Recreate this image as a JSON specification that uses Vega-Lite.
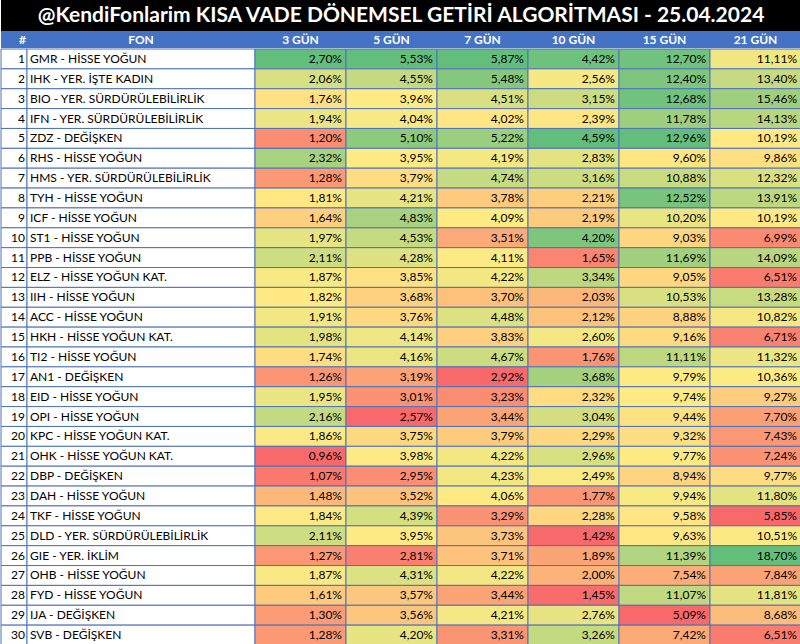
{
  "$schema": "https://vega.github.io/schema/vega-lite/v6.json",
  "padding": 0,
  "background": "white",
  "spacing": 0,
  "config": {
    "font": "Lato",
    "view": {"stroke": null},
    "locale": {"number": {"decimal": ",", "thousands": ".", "grouping": [3], "currency": ["", "%"]}}
  },
  "datasets": {
    "funds": [
      {"no": 1, "fon": "GMR - HİSSE YOĞUN", "3 GÜN": 2.70, "5 GÜN": 5.53, "7 GÜN": 5.87, "10 GÜN": 4.42, "15 GÜN": 12.70, "21 GÜN": 11.11},
      {"no": 2, "fon": "IHK - YER. İŞTE KADIN", "3 GÜN": 2.06, "5 GÜN": 4.55, "7 GÜN": 5.48, "10 GÜN": 2.56, "15 GÜN": 12.40, "21 GÜN": 13.40},
      {"no": 3, "fon": "BIO - YER. SÜRDÜRÜLEBİLİRLİK", "3 GÜN": 1.76, "5 GÜN": 3.96, "7 GÜN": 4.51, "10 GÜN": 3.15, "15 GÜN": 12.68, "21 GÜN": 15.46},
      {"no": 4, "fon": "IFN - YER. SÜRDÜRÜLEBİLİRLİK", "3 GÜN": 1.94, "5 GÜN": 4.04, "7 GÜN": 4.02, "10 GÜN": 2.39, "15 GÜN": 11.78, "21 GÜN": 14.13},
      {"no": 5, "fon": "ZDZ - DEĞİŞKEN", "3 GÜN": 1.20, "5 GÜN": 5.10, "7 GÜN": 5.22, "10 GÜN": 4.59, "15 GÜN": 12.96, "21 GÜN": 10.19},
      {"no": 6, "fon": "RHS - HİSSE YOĞUN", "3 GÜN": 2.32, "5 GÜN": 3.95, "7 GÜN": 4.19, "10 GÜN": 2.83, "15 GÜN": 9.60, "21 GÜN": 9.86},
      {"no": 7, "fon": "HMS - YER. SÜRDÜRÜLEBİLİRLİK", "3 GÜN": 1.28, "5 GÜN": 3.79, "7 GÜN": 4.74, "10 GÜN": 3.16, "15 GÜN": 10.88, "21 GÜN": 12.32},
      {"no": 8, "fon": "TYH - HİSSE YOĞUN", "3 GÜN": 1.81, "5 GÜN": 4.21, "7 GÜN": 3.78, "10 GÜN": 2.21, "15 GÜN": 12.52, "21 GÜN": 13.91},
      {"no": 9, "fon": "ICF - HİSSE YOĞUN", "3 GÜN": 1.64, "5 GÜN": 4.83, "7 GÜN": 4.09, "10 GÜN": 2.19, "15 GÜN": 10.20, "21 GÜN": 10.19},
      {"no": 10, "fon": "ST1 - HİSSE YOĞUN", "3 GÜN": 1.97, "5 GÜN": 4.53, "7 GÜN": 3.51, "10 GÜN": 4.20, "15 GÜN": 9.03, "21 GÜN": 6.99},
      {"no": 11, "fon": "PPB - HİSSE YOĞUN", "3 GÜN": 2.11, "5 GÜN": 4.28, "7 GÜN": 4.11, "10 GÜN": 1.65, "15 GÜN": 11.69, "21 GÜN": 14.09},
      {"no": 12, "fon": "ELZ - HİSSE YOĞUN KAT.", "3 GÜN": 1.87, "5 GÜN": 3.85, "7 GÜN": 4.22, "10 GÜN": 3.34, "15 GÜN": 9.05, "21 GÜN": 6.51},
      {"no": 13, "fon": "IIH - HİSSE YOĞUN", "3 GÜN": 1.82, "5 GÜN": 3.68, "7 GÜN": 3.70, "10 GÜN": 2.03, "15 GÜN": 10.53, "21 GÜN": 13.28},
      {"no": 14, "fon": "ACC - HİSSE YOĞUN", "3 GÜN": 1.91, "5 GÜN": 3.76, "7 GÜN": 4.48, "10 GÜN": 2.12, "15 GÜN": 8.88, "21 GÜN": 10.82},
      {"no": 15, "fon": "HKH - HİSSE YOĞUN KAT.", "3 GÜN": 1.98, "5 GÜN": 4.14, "7 GÜN": 3.83, "10 GÜN": 2.60, "15 GÜN": 9.16, "21 GÜN": 6.71},
      {"no": 16, "fon": "TI2 - HİSSE YOĞUN", "3 GÜN": 1.74, "5 GÜN": 4.16, "7 GÜN": 4.67, "10 GÜN": 1.76, "15 GÜN": 11.11, "21 GÜN": 11.32},
      {"no": 17, "fon": "AN1 - DEĞİŞKEN", "3 GÜN": 1.26, "5 GÜN": 3.19, "7 GÜN": 2.92, "10 GÜN": 3.68, "15 GÜN": 9.79, "21 GÜN": 10.36},
      {"no": 18, "fon": "EID - HİSSE YOĞUN", "3 GÜN": 1.95, "5 GÜN": 3.01, "7 GÜN": 3.23, "10 GÜN": 2.32, "15 GÜN": 9.74, "21 GÜN": 9.27},
      {"no": 19, "fon": "OPI - HİSSE YOĞUN", "3 GÜN": 2.16, "5 GÜN": 2.57, "7 GÜN": 3.44, "10 GÜN": 3.04, "15 GÜN": 9.44, "21 GÜN": 7.70},
      {"no": 20, "fon": "KPC - HİSSE YOĞUN KAT.", "3 GÜN": 1.86, "5 GÜN": 3.75, "7 GÜN": 3.79, "10 GÜN": 2.29, "15 GÜN": 9.32, "21 GÜN": 7.43},
      {"no": 21, "fon": "OHK - HİSSE YOĞUN KAT.", "3 GÜN": 0.96, "5 GÜN": 3.98, "7 GÜN": 4.22, "10 GÜN": 2.96, "15 GÜN": 9.77, "21 GÜN": 7.24},
      {"no": 22, "fon": "DBP - DEĞİŞKEN", "3 GÜN": 1.07, "5 GÜN": 2.95, "7 GÜN": 4.23, "10 GÜN": 2.49, "15 GÜN": 8.94, "21 GÜN": 9.77},
      {"no": 23, "fon": "DAH - HİSSE YOĞUN", "3 GÜN": 1.48, "5 GÜN": 3.52, "7 GÜN": 4.06, "10 GÜN": 1.77, "15 GÜN": 9.94, "21 GÜN": 11.80},
      {"no": 24, "fon": "TKF - HİSSE YOĞUN", "3 GÜN": 1.84, "5 GÜN": 4.39, "7 GÜN": 3.29, "10 GÜN": 2.28, "15 GÜN": 9.58, "21 GÜN": 5.85},
      {"no": 25, "fon": "DLD - YER. SÜRDÜRÜLEBİLİRLİK", "3 GÜN": 2.11, "5 GÜN": 3.95, "7 GÜN": 3.73, "10 GÜN": 1.42, "15 GÜN": 9.63, "21 GÜN": 10.51},
      {"no": 26, "fon": "GIE - YER. İKLİM", "3 GÜN": 1.27, "5 GÜN": 2.81, "7 GÜN": 3.71, "10 GÜN": 1.89, "15 GÜN": 11.39, "21 GÜN": 18.70},
      {"no": 27, "fon": "OHB - HİSSE YOĞUN", "3 GÜN": 1.87, "5 GÜN": 4.31, "7 GÜN": 4.22, "10 GÜN": 2.00, "15 GÜN": 7.54, "21 GÜN": 7.84},
      {"no": 28, "fon": "FYD - HİSSE YOĞUN", "3 GÜN": 1.61, "5 GÜN": 3.57, "7 GÜN": 3.44, "10 GÜN": 1.45, "15 GÜN": 11.07, "21 GÜN": 11.81},
      {"no": 29, "fon": "IJA - DEĞİŞKEN", "3 GÜN": 1.30, "5 GÜN": 3.56, "7 GÜN": 4.21, "10 GÜN": 2.76, "15 GÜN": 5.09, "21 GÜN": 8.68},
      {"no": 30, "fon": "SVB - DEĞİŞKEN", "3 GÜN": 1.28, "5 GÜN": 4.20, "7 GÜN": 3.31, "10 GÜN": 3.26, "15 GÜN": 7.42, "21 GÜN": 6.51}
    ],
    "periods": [
      {"period": "3 GÜN"}, {"period": "5 GÜN"}, {"period": "7 GÜN"},
      {"period": "10 GÜN"}, {"period": "15 GÜN"}, {"period": "21 GÜN"}
    ]
  },
  "vconcat": [
    {
      "width": 800,
      "height": 31,
      "view": {"fill": "#000000", "stroke": null},
      "data": {"values": [{"t": "@KendiFonlarim KISA VADE DÖNEMSEL GETİRİ ALGORİTMASI - 25.04.2024"}]},
      "mark": {"type": "text", "color": "white", "fontSize": 21, "fontWeight": "bold", "font": "Lato"},
      "encoding": {"text": {"field": "t"}}
    },
    {
      "hconcat": [
        {
          "width": 26,
          "height": 17,
          "view": {"fill": "#4472C4", "stroke": null},
          "data": {"values": [{"h": "#"}]},
          "mark": {"type": "text", "color": "white", "fontSize": 12, "fontWeight": "bold", "align": "left", "dx": 5},
          "encoding": {
            "x": {"datum": "#", "type": "nominal", "axis": null, "bandPosition": 0, "scale": {"paddingInner": 0, "paddingOuter": 0}},
            "text": {"field": "h"}
          }
        },
        {
          "width": 228,
          "height": 17,
          "view": {"fill": "#4472C4", "stroke": null},
          "data": {"values": [{"h": "FON"}]},
          "mark": {"type": "text", "color": "white", "fontSize": 12, "fontWeight": "bold"},
          "encoding": {"text": {"field": "h"}}
        },
        {
          "width": 546,
          "height": 17,
          "view": {"fill": "#4472C4", "stroke": null},
          "data": {"name": "periods"},
          "mark": {"type": "text", "color": "white", "fontSize": 12, "fontWeight": "bold"},
          "encoding": {
            "x": {"field": "period", "type": "nominal", "axis": null, "scale": {"domain": ["3 GÜN", "5 GÜN", "7 GÜN", "10 GÜN", "15 GÜN", "21 GÜN"], "paddingInner": 0, "paddingOuter": 0}},
            "text": {"field": "period"}
          }
        }
      ],
      "spacing": 0,
      "bounds": "flush"
    },
    {
      "hconcat": [
        {
          "width": 26,
          "height": 596,
          "data": {"name": "funds"},
          "encoding": {
            "y": {"field": "no", "type": "ordinal", "axis": null, "scale": {"paddingInner": 0, "paddingOuter": 0}},
            "x": {"datum": "#", "type": "nominal", "axis": null, "scale": {"paddingInner": 0, "paddingOuter": 0}}
          },
          "layer": [
            {"mark": {"type": "rect", "fill": "white", "stroke": "#4E72B8", "strokeWidth": 1}},
            {
              "mark": {"type": "text", "align": "right", "dx": -2, "fontSize": 12, "color": "black"},
              "encoding": {
                "x": {"datum": "#", "type": "nominal", "bandPosition": 1},
                "text": {"field": "no"}
              }
            }
          ]
        },
        {
          "width": 228,
          "height": 596,
          "data": {"name": "funds"},
          "encoding": {
            "y": {"field": "no", "type": "ordinal", "axis": null, "scale": {"paddingInner": 0, "paddingOuter": 0}},
            "x": {"datum": "FON", "type": "nominal", "axis": null, "scale": {"paddingInner": 0, "paddingOuter": 0}}
          },
          "layer": [
            {"mark": {"type": "rect", "fill": "white", "stroke": "#4E72B8", "strokeWidth": 1}},
            {
              "mark": {"type": "text", "align": "left", "dx": 3, "fontSize": 12, "color": "black"},
              "encoding": {
                "x": {"datum": "FON", "type": "nominal", "bandPosition": 0},
                "text": {"field": "fon"}
              }
            }
          ]
        },
        {
          "width": 546,
          "height": 596,
          "data": {"name": "funds"},
          "transform": [
            {"fold": ["3 GÜN", "5 GÜN", "7 GÜN", "10 GÜN", "15 GÜN", "21 GÜN"], "as": ["period", "ret"]}
          ],
          "encoding": {
            "y": {"field": "no", "type": "ordinal", "axis": null, "scale": {"paddingInner": 0, "paddingOuter": 0}},
            "x": {"field": "period", "type": "nominal", "axis": null, "scale": {"domain": ["3 GÜN", "5 GÜN", "7 GÜN", "10 GÜN", "15 GÜN", "21 GÜN"], "paddingInner": 0, "paddingOuter": 0}}
          },
          "layer": [
            {
              "transform": [{"filter": "datum.period === '3 GÜN'"}],
              "mark": {"type": "rect", "stroke": "#4E72B8", "strokeWidth": 1},
              "encoding": {"fill": {"field": "ret", "type": "quantitative", "legend": null, "scale": {"domain": [0.96, 1.83, 2.70], "range": ["#F8696B", "#FFEB84", "#63BE7B"], "interpolate": "rgb"}}}
            },
            {
              "transform": [{"filter": "datum.period === '5 GÜN'"}],
              "mark": {"type": "rect", "stroke": "#4E72B8", "strokeWidth": 1},
              "encoding": {"fill": {"field": "ret", "type": "quantitative", "legend": null, "scale": {"domain": [2.57, 3.955, 5.53], "range": ["#F8696B", "#FFEB84", "#63BE7B"], "interpolate": "rgb"}}}
            },
            {
              "transform": [{"filter": "datum.period === '7 GÜN'"}],
              "mark": {"type": "rect", "stroke": "#4E72B8", "strokeWidth": 1},
              "encoding": {"fill": {"field": "ret", "type": "quantitative", "legend": null, "scale": {"domain": [2.92, 4.075, 5.87], "range": ["#F8696B", "#FFEB84", "#63BE7B"], "interpolate": "rgb"}}}
            },
            {
              "transform": [{"filter": "datum.period === '10 GÜN'"}],
              "mark": {"type": "rect", "stroke": "#4E72B8", "strokeWidth": 1},
              "encoding": {"fill": {"field": "ret", "type": "quantitative", "legend": null, "scale": {"domain": [1.42, 2.44, 4.59], "range": ["#F8696B", "#FFEB84", "#63BE7B"], "interpolate": "rgb"}}}
            },
            {
              "transform": [{"filter": "datum.period === '15 GÜN'"}],
              "mark": {"type": "rect", "stroke": "#4E72B8", "strokeWidth": 1},
              "encoding": {"fill": {"field": "ret", "type": "quantitative", "legend": null, "scale": {"domain": [5.09, 9.78, 12.96], "range": ["#F8696B", "#FFEB84", "#63BE7B"], "interpolate": "rgb"}}}
            },
            {
              "transform": [{"filter": "datum.period === '21 GÜN'"}],
              "mark": {"type": "rect", "stroke": "#4E72B8", "strokeWidth": 1},
              "encoding": {"fill": {"field": "ret", "type": "quantitative", "legend": null, "scale": {"domain": [5.85, 10.275, 18.70], "range": ["#F8696B", "#FFEB84", "#63BE7B"], "interpolate": "rgb"}}}
            },
            {
              "mark": {"type": "text", "align": "right", "dx": -4, "fontSize": 12, "color": "black"},
              "encoding": {
                "x": {"field": "period", "type": "nominal", "bandPosition": 1},
                "text": {"field": "ret", "type": "quantitative", "format": "$.2f"}
              }
            }
          ],
          "resolve": {"scale": {"fill": "independent"}}
        }
      ],
      "spacing": 0,
      "bounds": "flush"
    }
  ]
}
